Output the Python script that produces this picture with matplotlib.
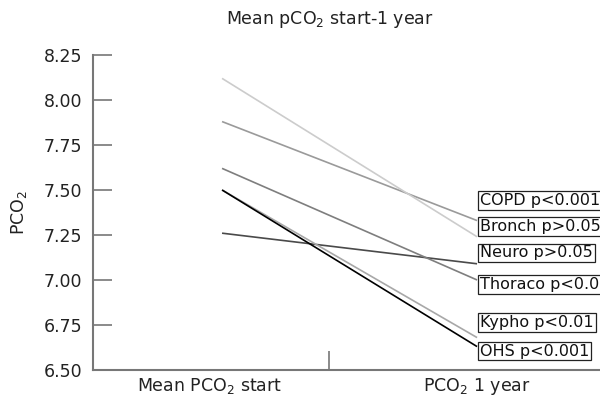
from matplotlib import pyplot as plt

# data...
groups = ['COPD', 'Bronch', 'Neuro', 'Thoraco', 'Kypho', 'OHS']
p_text = ['p<0.001', 'p>0.05', 'p>0.05', 'p<0.01', 'p<0.01', 'p<0.001']
pco2_start = [7.88, 8.12, 7.26, 7.62, 7.50, 7.50]
pco2_1year = [7.33, 7.24, 7.09, 7.00, 6.68, 6.63]
colours = ['#9a9a9a', '#cccccc', '#4a4a4a', '#7e7e7e', '#a8a8a8', '#000000']

# label box centres (value units)...
label_y = [7.44, 7.295, 7.15, 6.975, 6.765, 6.605]

categories = ['Mean PCO$_2$ start', 'PCO$_2$ 1 year']
category_x = [-0.05, 1.0]
y_ticks = [6.50, 6.75, 7.00, 7.25, 7.50, 7.75, 8.00, 8.25]

plt.rcParams['font.family'] = ['DejaVu Sans']
plt.rcParams['font.size'] = 12

fig = plt.figure(figsize=(6.0, 3.98), dpi=100)
ax = fig.add_axes([0.155, 0.0704, 0.845, 0.7915])

for start, end, colour in zip(pco2_start, pco2_1year, colours):
    ax.plot([0, 1], [start, end], color=colour, linewidth=1.2, solid_capstyle='butt')

for name, p, y in zip(groups, p_text, label_y):
    ax.text(1.012, y, name + ' ' + p, ha='left', va='center', fontsize=11.5, color='#111111',
            bbox=dict(boxstyle='square,pad=0.12', facecolor='white', edgecolor='#222222', linewidth=0.9),
            clip_on=False)

# axes...
ax.set_xlim(-0.506, 1.482)
ax.set_ylim(6.50, 8.25)

ax.spines['top'].set_visible(False)
ax.spines['right'].set_visible(False)
for side in ('left', 'bottom'):
    ax.spines[side].set_color('#777777')
    ax.spines[side].set_linewidth(1.5)

ax.set_yticks(y_ticks)
ax.set_yticklabels(['%.2f' % t for t in y_ticks], color='#222222', fontsize=12.5)
ax.tick_params(axis='y', direction='in', length=14, width=1.2, color='#777777', pad=8)

ax.set_xticks([0.418])
ax.set_xticklabels([''])
ax.tick_params(axis='x', direction='in', length=14, width=1.2, color='#777777')

for x, label in zip(category_x, categories):
    ax.text(x, -0.018, label, transform=ax.get_xaxis_transform(), ha='center', va='top',
            fontsize=12.5, color='#222222')

ax.set_ylabel('PCO$_2$', fontsize=12.5, color='#222222', labelpad=10)
fig.text(0.55, 0.952, 'Mean pCO$_2$ start-1 year', ha='center', va='center', fontsize=12.5, color='#222222')

plt.savefig('out.png', dpi=100)
